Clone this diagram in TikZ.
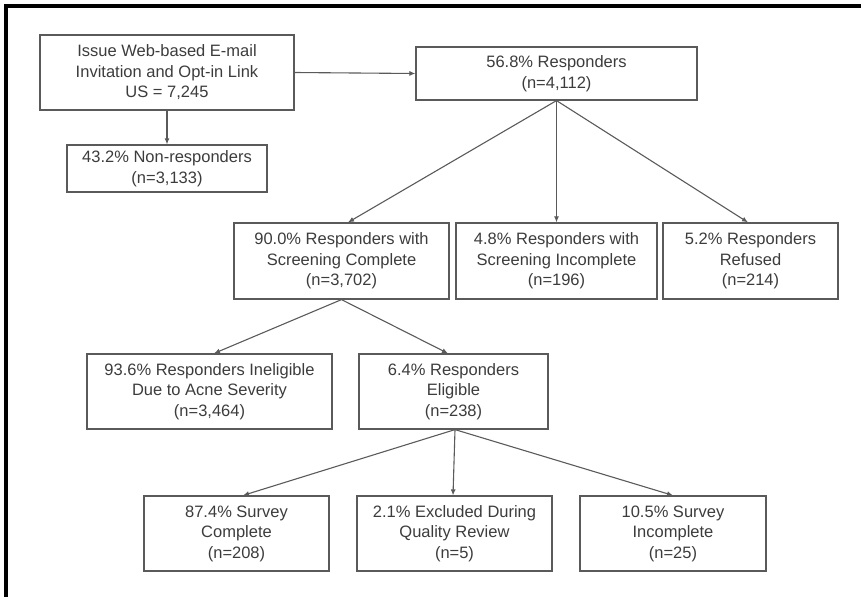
\documentclass[tikz,border=0pt]{standalone}
\usepackage{fontspec}
\setmainfont{Liberation Sans}
\usetikzlibrary{arrows.meta}
\definecolor{txtc}{HTML}{3C3C3C}
\definecolor{linec}{HTML}{5A5A5A}
\begin{document}
\begin{tikzpicture}[x=1pt,y=-1pt,
  box/.style={draw=linec, line width=1.2pt, rectangle, inner sep=2pt, align=center,
    text=txtc, font=\fontsize{16.5}{20.5}\selectfont},
  conn/.style={draw=linec, line width=1.1pt, -{Latex[length=6pt,width=5pt]}}]
\useasboundingbox (0,0) rectangle (861,597);
\draw[line width=3.5pt, line join=miter] (861,6) -- (6,6) -- (6,597);
\node[box, minimum width=254pt, minimum height=75pt] (A) at (167,72.5)
  {Issue Web-based E-mail\\Invitation and Opt-in Link\\US = 7,245};
\node[box, minimum width=200pt, minimum height=47pt] (NR) at (167,168.5)
  {43.2\% Non-responders\\(n=3,133)};
\node[box, minimum width=281pt, minimum height=53pt] (R) at (556.5,73.5)
  {56.8\% Responders\\(n=4,112)};
\node[box, minimum width=215pt, minimum height=76pt] (S1) at (341.5,261)
  {90.0\% Responders with\\Screening Complete\\(n=3,702)};
\node[box, minimum width=201pt, minimum height=76pt] (S2) at (556.5,261)
  {4.8\% Responders with\\Screening Incomplete\\(n=196)};
\node[box, minimum width=175pt, minimum height=76pt] (S3) at (750.5,261)
  {5.2\% Responders\\Refused\\(n=214)};
\node[box, minimum width=245pt, minimum height=75pt] (I1) at (209.5,391.5)
  {93.6\% Responders Ineligible\\Due to Acne Severity\\(n=3,464)};
\node[box, minimum width=189pt, minimum height=75pt] (E) at (453.5,391.5)
  {6.4\% Responders\\Eligible\\(n=238)};
\node[box, minimum width=185pt, minimum height=75pt] (B1) at (236.5,533.5)
  {87.4\% Survey\\Complete\\(n=208)};
\node[box, minimum width=195pt, minimum height=75pt] (B2) at (454.5,533.5)
  {2.1\% Excluded During\\Quality Review\\(n=5)};
\node[box, minimum width=186pt, minimum height=75pt] (B3) at (673,533.5)
  {10.5\% Survey\\Incomplete\\(n=25)};
\draw[conn] (A.east) -- (R.west);
\draw[conn] (A.south) -- (NR.north);
\draw[conn] (R.south) -- ([xshift=6.5pt]S1.north);
\draw[conn] (R.south) -- (S2.north);
\draw[conn] (R.south) -- ([xshift=-2.5pt]S3.north);
\draw[conn] (S1.south) -- ([xshift=4.5pt]I1.north);
\draw[conn] (S1.south) -- ([xshift=-5.5pt]E.north);
\draw[conn] ([xshift=1.5pt]E.south) -- ([xshift=6.5pt]B1.north);
\draw[conn] ([xshift=1.5pt]E.south) -- ([xshift=-1.5pt]B2.north);
\draw[conn] ([xshift=1.5pt]E.south) -- (B3.north);
\end{tikzpicture}
\end{document}
